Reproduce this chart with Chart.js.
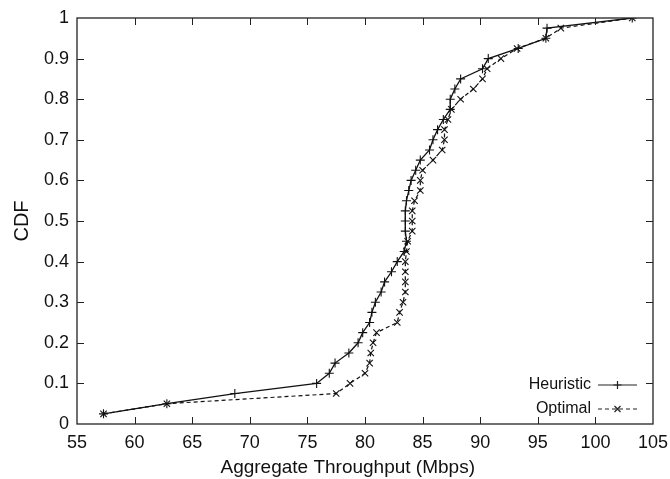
<!DOCTYPE html>
<html>
<head>
<meta charset="utf-8">
<script src="https://cdn.jsdelivr.net/npm/chart.js@4/dist/chart.umd.min.js"></script>
<style>
  html, body { margin: 0; padding: 0; background: #fff; }
  #wrap { width: 670px; height: 479px; }
</style>
</head>
<body>
<div id="wrap"><canvas id="myChart"></canvas></div>
<script>
// CDF levels (40 samples, step 0.025)
const cdfLevels = [
  0.025, 0.05, 0.075, 0.1, 0.125, 0.15, 0.175, 0.2, 0.225, 0.25,
  0.275, 0.3, 0.325, 0.35, 0.375, 0.4, 0.425, 0.45, 0.475, 0.5,
  0.525, 0.55, 0.575, 0.6, 0.625, 0.65, 0.675, 0.7, 0.725, 0.75,
  0.775, 0.8, 0.825, 0.85, 0.875, 0.9, 0.925, 0.95, 0.975, 1.0
];

// throughput (Mbps)
const heuristicMbps = [
  57.3, 62.8, 68.7, 75.8, 76.9, 77.4, 78.6, 79.4, 79.8, 80.4,
  80.6, 80.9, 81.4, 81.7, 82.3, 82.8, 83.4, 83.6, 83.5, 83.5,
  83.5, 83.6, 83.8, 84.0, 84.4, 84.8, 85.6, 85.9, 86.3, 86.8,
  87.4, 87.4, 87.8, 88.3, 90.2, 90.7, 93.3, 95.7, 95.8, 103.2
];
const optimalMbps = [
  57.3, 62.8, 77.5, 78.7, 80.0, 80.4, 80.5, 80.7, 81.0, 82.8,
  83.0, 83.3, 83.5, 83.5, 83.5, 83.5, 83.6, 83.7, 84.1, 84.1,
  84.1, 84.3, 84.8, 84.8, 85.0, 85.9, 86.7, 86.9, 86.9, 87.2,
  87.5, 88.3, 89.4, 90.2, 90.6, 91.8, 93.2, 95.7, 97.0, 103.2
];

const xTicks = { min: 55, max: 105, step: 5 };
const yTicks = { min: 0, max: 1, step: 0.1 };
const xTitle = "Aggregate Throughput (Mbps)";

function toPoints(xs) {
  return xs.map((x, i) => ({ x: x, y: cdfLevels[i] }));
}

const FONT = "'Liberation Sans', Arial, sans-serif";

// gnuplot style frame with inward ticks on all four sides, x title, legend
const framePlugin = {
  id: "frame",
  afterDatasetsDraw(chart) {
    const ctx = chart.ctx;
    const a = chart.chartArea;
    const xs = chart.scales.x;
    const ys = chart.scales.y;
    ctx.save();
    ctx.strokeStyle = "#222";
    ctx.lineWidth = 1.3;
    ctx.strokeRect(a.left, a.top, a.right - a.left, a.bottom - a.top);
    ctx.lineWidth = 1;
    const t = 7;
    ctx.beginPath();
    for (let v = xTicks.min + xTicks.step; v < xTicks.max; v += xTicks.step) {
      const px = Math.round(xs.getPixelForValue(v)) + 0.5;
      ctx.moveTo(px, a.bottom); ctx.lineTo(px, a.bottom - t);
      ctx.moveTo(px, a.top); ctx.lineTo(px, a.top + t);
    }
    for (let i = 1; i < 10; i++) {
      const py = Math.round(ys.getPixelForValue(i * yTicks.step)) + 0.5;
      ctx.moveTo(a.left, py); ctx.lineTo(a.left + t, py);
      ctx.moveTo(a.right, py); ctx.lineTo(a.right - t, py);
    }
    ctx.stroke();

    // x axis title (gnuplot puts it a bit left of the plot centre)
    ctx.fillStyle = "#111";
    ctx.font = "19px " + FONT;
    ctx.textAlign = "center";
    ctx.textBaseline = "middle";
    ctx.fillText(xTitle, xs.getPixelForValue(78.5), a.bottom + 44);

    // legend: label then line sample with marker, bottom-right
    ctx.font = "16px " + FONT;
    ctx.textAlign = "right";
    const lineR = a.right - 16;
    const lineL = lineR - 39;
    const rows = [
      { label: "Heuristic", y: a.bottom - 39, dash: [], mark: "+" },
      { label: "Optimal", y: a.bottom - 15, dash: [4, 3], mark: "x" }
    ];
    rows.forEach(r => {
      ctx.fillText(r.label, lineL - 7, r.y);
      ctx.setLineDash(r.dash);
      ctx.lineWidth = 1.2;
      ctx.beginPath();
      ctx.moveTo(lineL, r.y); ctx.lineTo(lineR, r.y);
      ctx.stroke();
      ctx.setLineDash([]);
      const cx = (lineL + lineR) / 2;
      ctx.beginPath();
      if (r.mark === "+") {
        ctx.moveTo(cx, r.y - 4); ctx.lineTo(cx, r.y + 4);
        ctx.moveTo(cx - 4, r.y); ctx.lineTo(cx + 4, r.y);
      } else {
        ctx.moveTo(cx - 3, r.y - 3); ctx.lineTo(cx + 3, r.y + 3);
        ctx.moveTo(cx - 3, r.y + 3); ctx.lineTo(cx + 3, r.y - 3);
      }
      ctx.stroke();
    });
    ctx.restore();
  }
};

new Chart(document.getElementById("myChart"), {
  type: "line",
  data: {
    datasets: [
      {
        label: "Heuristic",
        data: toPoints(heuristicMbps),
        borderColor: "#111",
        backgroundColor: "#111",
        borderWidth: 1.3,
        pointStyle: "cross",
        pointRadius: 4.5,
        pointBorderWidth: 1.1,
        tension: 0,
        fill: false
      },
      {
        label: "Optimal",
        data: toPoints(optimalMbps),
        borderColor: "#111",
        backgroundColor: "#111",
        borderWidth: 1.2,
        borderDash: [4, 3],
        pointStyle: "crossRot",
        pointRadius: 4.5,
        pointBorderWidth: 1.1,
        tension: 0,
        fill: false
      }
    ]
  },
  options: {
    responsive: true,
    maintainAspectRatio: false,
    animation: false,
    layout: { padding: { top: 18, right: 17, left: 0, bottom: 0 } },
    plugins: {
      legend: { display: false },
      tooltip: { enabled: false }
    },
    scales: {
      x: {
        type: "linear",
        min: xTicks.min,
        max: xTicks.max,
        grid: { display: false, drawTicks: false },
        border: { display: false },
        ticks: {
          stepSize: xTicks.step,
          padding: 8,
          color: "#111",
          font: { family: FONT, size: 18 }
        },
        afterFit(scale) {
          scale.height = 55;
          scale.paddingLeft = 0;
          scale.paddingRight = 0;
        }
      },
      y: {
        type: "linear",
        min: yTicks.min,
        max: yTicks.max,
        grid: { display: false, drawTicks: false },
        border: { display: false },
        ticks: {
          stepSize: yTicks.step,
          padding: 8,
          color: "#111",
          font: { family: FONT, size: 18 },
          callback: v => (v === 0 || v === 1) ? String(v) : v.toFixed(1)
        },
        title: {
          display: true,
          text: "CDF",
          color: "#111",
          font: { family: FONT, size: 20 },
          padding: { top: 10, bottom: 4 }
        },
        afterFit(scale) {
          scale.width = 77;
          scale.paddingTop = 0;
          scale.paddingBottom = 0;
        }
      }
    }
  },
  plugins: [framePlugin]
});
</script>
</body>
</html>
